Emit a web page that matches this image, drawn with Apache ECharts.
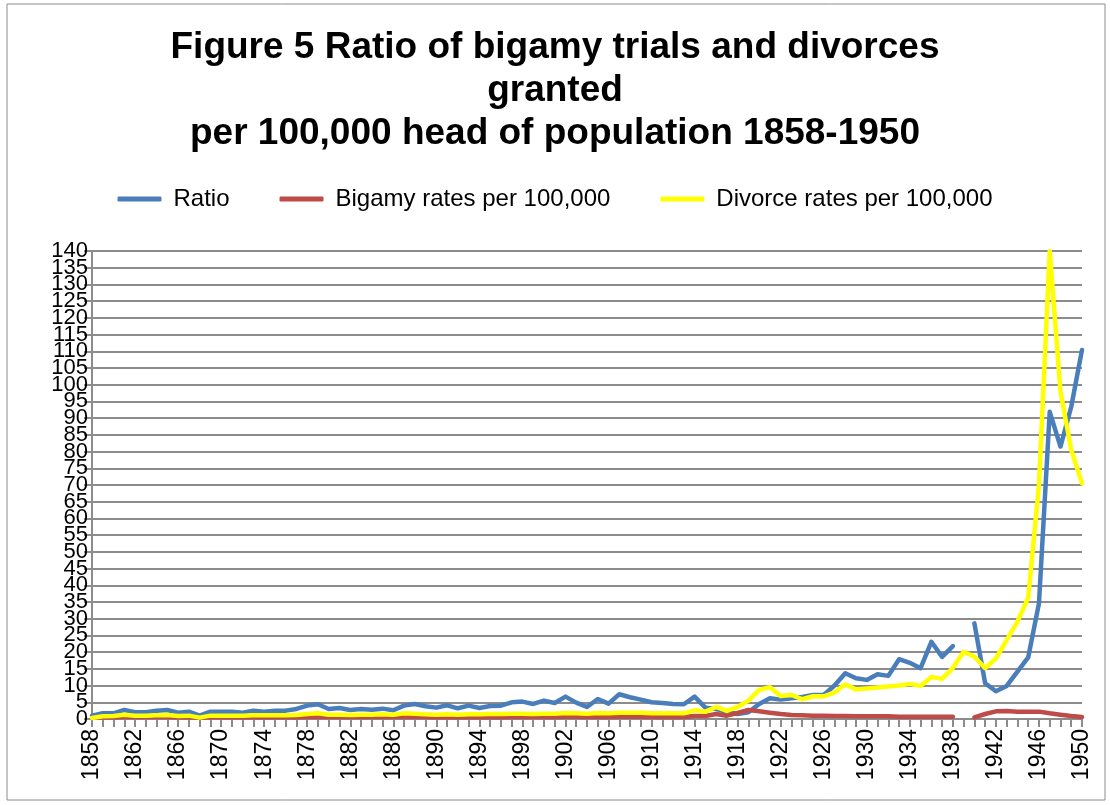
<!DOCTYPE html>
<html>
<head>
<meta charset="utf-8">
<title>Figure 5</title>
<script src="https://cdn.jsdelivr.net/npm/echarts@6/dist/echarts.min.js"></script>
<style>
  html, body { margin: 0; padding: 0; background: #fff; }
  #chart { width: 1110px; height: 805px; }
</style>
</head>
<body>
<div id="chart"></div>
<script>
// years 1858..1950
const years = [];
for (let y = 1858; y <= 1950; y++) years.push(String(y));

// Ratio (gap in 1939)
const ratio = [
  1.0, 1.7, 1.7, 2.7, 2.0, 2.0, 2.5, 2.7, 1.9, 2.2,   // 1858-1867
  1.0, 2.2, 2.2, 2.2, 1.9, 2.5, 2.2, 2.5, 2.5, 3.0,   // 1868-1877
  4.0, 4.4, 3.0, 3.3, 2.7, 3.0, 2.8, 3.1, 2.6, 4.0,   // 1878-1887
  4.5, 3.8, 3.4, 4.1, 3.2, 4.0, 3.3, 3.9, 4.0, 5.0,   // 1888-1897
  5.2, 4.5, 5.5, 4.8, 6.7, 4.9, 3.6, 6.0, 4.6, 7.4,   // 1898-1907
  6.5, 5.8, 5.0, 4.8, 4.5, 4.4, 6.7, 3.4, 3.0, 2.0,   // 1908-1917
  1.5, 2.0, 4.5, 6.2, 5.8, 6.2, 6.6, 7.2, 7.2, 10.0,  // 1918-1927
  13.7, 12.2, 11.7, 13.4, 12.9, 17.9, 16.8, 15.2, 23.1, 18.6, // 1928-1937
  21.8, null, 28.6, 10.7, 8.3, 9.9, 14.2, 18.4, 34.6, 91.9,   // 1938-1947
  81.5, 93.4, 110.4                                   // 1948-1950
];

// Bigamy rates per 100,000 (gap in 1939)
const bigamy = [
  0.4, 0.5, 0.5, 0.7, 0.6, 0.6, 0.6, 0.6, 0.5, 0.5,
  0.4, 0.5, 0.5, 0.5, 0.5, 0.5, 0.5, 0.5, 0.5, 0.5,
  0.6, 0.7, 0.6, 0.6, 0.6, 0.6, 0.6, 0.6, 0.6, 0.7,
  0.6, 0.6, 0.5, 0.5, 0.5, 0.5, 0.5, 0.5, 0.5, 0.6,
  0.6, 0.6, 0.6, 0.6, 0.7, 0.7, 0.6, 0.6, 0.6, 0.7,
  0.7, 0.7, 0.6, 0.6, 0.6, 0.6, 0.9, 0.9, 1.5, 1.0,
  1.8, 2.7, 2.3, 1.9, 1.5, 1.2, 1.1, 1.0, 1.0, 0.9,
  0.9, 0.8, 0.8, 0.8, 0.8, 0.7, 0.7, 0.7, 0.7, 0.7,
  0.7, null, 0.5, 1.5, 2.3, 2.4, 2.2, 2.2, 2.2, 1.7,
  1.3, 0.9, 0.6
];

// Divorce rates per 100,000
const divorce = [
  0.3, 0.8, 0.9, 1.3, 1.0, 1.0, 1.1, 1.2, 0.9, 1.0,
  0.4, 1.0, 1.0, 1.0, 1.0, 1.1, 1.1, 1.1, 1.1, 1.2,
  1.5, 1.7, 1.3, 1.3, 1.2, 1.3, 1.3, 1.4, 1.3, 1.7,
  1.6, 1.4, 1.3, 1.4, 1.3, 1.4, 1.4, 1.5, 1.5, 1.6,
  1.6, 1.5, 1.6, 1.6, 1.8, 1.7, 1.6, 1.8, 1.7, 1.9,
  1.9, 1.9, 1.7, 1.7, 1.7, 1.7, 2.6, 2.2, 3.6, 2.4,
  3.6, 5.5, 8.7, 9.5, 6.9, 7.2, 5.9, 6.8, 6.8, 7.9,
  10.4, 8.8, 9.1, 9.4, 9.7, 10.0, 10.5, 9.9, 12.6, 12.0,
  15.3, 20.1, 18.6, 15.2, 18.1, 23.6, 29.1, 36.3, 70.0, 140.0,
  98.0, 80.5, 70.5
];

const yMin = 0, yMax = 140, yStep = 5;

const chart = echarts.init(document.getElementById('chart'));

const labelFont = '"Liberation Sans", Arial, sans-serif';
const gridColor = '#8c8c8c';

function lineSeries(name, data, color) {
  return {
    name: name,
    type: 'line',
    data: data,
    symbol: 'none',
    connectNulls: false,
    lineStyle: { color: color, width: 4.5, cap: 'round', join: 'round' },
    itemStyle: { color: color },
    animation: false
  };
}

const yLabelStyle = { fontFamily: labelFont, fontSize: 22, color: '#000', margin: 4 };

chart.setOption({
  backgroundColor: '#fff',
  animation: false,
  graphic: [{
    type: 'rect',
    shape: { x: 7, y: 4, width: 1098, height: 796 },
    style: { fill: 'none', stroke: '#8c8c8c', lineWidth: 1 }
  }],
  title: {
    text: 'Figure 5 Ratio of bigamy trials and divorces\ngranted\nper 100,000 head of population 1858-1950',
    left: 'center',
    top: 21,
    textStyle: {
      fontFamily: labelFont,
      fontWeight: 'bold',
      fontSize: 37,
      lineHeight: 43,
      color: '#000'
    }
  },
  legend: {
    top: 182,
    left: 'center',
    icon: 'roundRect',
    itemWidth: 44,
    itemHeight: 5,
    itemGap: 50,
    textStyle: { fontFamily: labelFont, fontSize: 24, color: '#000', padding: [0, 0, 0, 7] },
    data: ['Ratio', 'Bigamy rates per 100,000', 'Divorce rates per 100,000']
  },
  grid: { left: 92, right: 28, top: 251, bottom: 86, containLabel: false },
  xAxis: {
    type: 'category',
    data: years,
    boundaryGap: false,
    axisLine: { lineStyle: { color: gridColor, width: 2 } },
    axisTick: { show: true, interval: 0, length: 8, lineStyle: { color: gridColor, width: 2 } },
    axisLabel: {
      interval: 3,
      rotate: 90,
      margin: 10,
      fontFamily: labelFont,
      fontSize: 23,
      color: '#000'
    },
    splitLine: { show: false }
  },
  yAxis: [
    {
      // main axis: line, ticks, gridlines, and the end labels 0 / 140
      type: 'value',
      min: yMin, max: yMax, interval: yStep,
      axisLine: { show: true, lineStyle: { color: gridColor, width: 2 } },
      axisTick: { show: true, length: 8, lineStyle: { color: gridColor, width: 2 } },
      axisLabel: Object.assign({}, yLabelStyle, {
        showMinLabel: true, showMaxLabel: true,
        formatter: v => (v === yMin || v === yMax) ? String(v) : ''
      }),
      splitLine: { show: true, lineStyle: { color: gridColor, width: 2 } }
    },
    {
      // overlay axis for the inner labels 5..135 (ECharts drops them next to min/max otherwise)
      type: 'value',
      position: 'left',
      min: yMin, max: yMax, interval: yStep,
      axisLine: { show: false },
      axisTick: { show: false },
      splitLine: { show: false },
      axisLabel: Object.assign({}, yLabelStyle, { showMinLabel: false, showMaxLabel: false })
    }
  ],
  series: [
    lineSeries('Ratio', ratio, '#4a7ebb'),
    lineSeries('Bigamy rates per 100,000', bigamy, '#be4b48'),
    lineSeries('Divorce rates per 100,000', divorce, '#ffff00')
  ]
});
</script>
</body>
</html>
